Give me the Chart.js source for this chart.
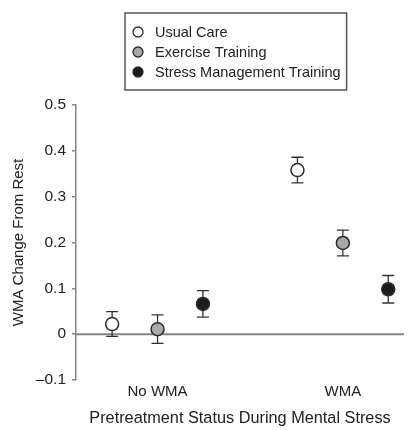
<!DOCTYPE html>
<html>
<head>
<meta charset="utf-8">
<script src="https://cdn.jsdelivr.net/npm/chart.js@4.4.1/dist/chart.umd.min.js"></script>
<style>
  body { margin: 0; background: #fff; }
  #wrap { width: 412px; height: 430px; }
</style>
</head>
<body>
<div id="wrap"><canvas id="wmaChart" width="412" height="430"></canvas></div>
<script>
// WMA change from rest by pretreatment status

const categories = ['No WMA', 'WMA'];
const groups = ['Usual Care', 'Exercise Training', 'Stress Management Training'];

const usualCare = [0.022, 0.358];
const usualCareErr = [0.027, 0.028];
const exercise = [0.011, 0.199];
const exerciseErr = [0.031, 0.028];
const stressMgmt = [0.066, 0.098];
const stressMgmtErr = [0.029, 0.030];

const yTicks = [-0.1, 0, 0.1, 0.2, 0.3, 0.4, 0.5];

const FONT = 'Liberation Sans, Arial, Helvetica, sans-serif';
const TEXT = '#222';
const AXIS = '#858585';

// dodge each group within a category
const dodge = [-0.245, 0, 0.245];

function makeSet(label, values, errs, fill, i) {
    return {
        label: label,
        data: values.map((v, c) => ({ x: c + dodge[i], y: v, err: errs[c] })),
        backgroundColor: fill,
        borderColor: '#2a2a2a',
        borderWidth: 1.5,
        pointRadius: 6.5,
        pointHoverRadius: 6.5,
        showLine: false
    };
}

// zero line + error bars, drawn under the points
const underlay = {
    id: 'underlay',
    beforeDatasetsDraw(chart) {
        const { ctx, chartArea, scales } = chart;
        const y0 = scales.y.getPixelForValue(0);
        ctx.save();
        ctx.strokeStyle = AXIS;
        ctx.lineWidth = 2;
        ctx.beginPath();
        ctx.moveTo(chartArea.left, y0);
        ctx.lineTo(chartArea.right, y0);
        ctx.stroke();

        ctx.strokeStyle = '#333';
        ctx.lineWidth = 1.3;
        chart.data.datasets.forEach((ds, i) => {
            const meta = chart.getDatasetMeta(i);
            meta.data.forEach((pt, j) => {
                const d = ds.data[j];
                const top = scales.y.getPixelForValue(d.y + d.err);
                const bot = scales.y.getPixelForValue(d.y - d.err);
                ctx.beginPath();
                ctx.moveTo(pt.x, top);
                ctx.lineTo(pt.x, bot);
                ctx.moveTo(pt.x - 6, top);
                ctx.lineTo(pt.x + 6, top);
                ctx.moveTo(pt.x - 6, bot);
                ctx.lineTo(pt.x + 6, bot);
                ctx.stroke();
            });
        });
        ctx.restore();
    }
};

// boxed legend stacked vertically
const boxLegend = {
    id: 'boxLegend',
    afterDraw(chart) {
        const ctx = chart.ctx;
        const x0 = 125, y0 = 13, rowH = 20;
        ctx.save();
        ctx.font = '14.5px ' + FONT;
        let w = 0;
        chart.data.datasets.forEach(ds => { w = Math.max(w, ctx.measureText(ds.label).width); });
        ctx.strokeStyle = '#555';
        ctx.lineWidth = 1.5;
        ctx.strokeRect(x0, y0, 30 + w + 6, 77);
        chart.data.datasets.forEach((ds, i) => {
            const cy = y0 + 19 + i * rowH;
            ctx.beginPath();
            ctx.arc(x0 + 13, cy, 5, 0, Math.PI * 2);
            ctx.fillStyle = ds.backgroundColor;
            ctx.fill();
            ctx.strokeStyle = '#2a2a2a';
            ctx.lineWidth = 1.3;
            ctx.stroke();
            ctx.fillStyle = TEXT;
            ctx.textBaseline = 'middle';
            ctx.fillText(ds.label, x0 + 30, cy + 1);
        });
        ctx.restore();
    }
};

const ctx = document.getElementById('wmaChart').getContext('2d');

const wmaChart = new Chart(ctx, {
    type: 'scatter',
    data: {
        datasets: [
            makeSet(groups[0], usualCare, usualCareErr, '#ffffff', 0),
            makeSet(groups[1], exercise, exerciseErr, '#a8a8a8', 1),
            makeSet(groups[2], stressMgmt, stressMgmtErr, '#1c1c1c', 2)
        ]
    },
    options: {
        responsive: false,
        animation: false,
        layout: { padding: { top: 105, right: 0, bottom: 0, left: 0 } },
        plugins: {
            legend: { display: false },
            tooltip: { enabled: false }
        },
        scales: {
            x: {
                type: 'linear',
                min: -0.44,
                max: 1.33,
                afterBuildTicks: s => { s.ticks = categories.map((c, i) => ({ value: i })); },
                afterFit: s => { s.height = 50; },
                grid: { display: false },
                border: { display: false },
                ticks: {
                    padding: -5,
                    color: TEXT,
                    font: { family: FONT, size: 15 },
                    callback: v => categories[v]
                },
                title: {
                    display: true,
                    text: 'Pretreatment Status During Mental Stress',
                    color: TEXT,
                    font: { family: FONT, size: 16.3 },
                    padding: { top: 0, bottom: 2 }
                }
            },
            y: {
                min: -0.1,
                max: 0.5,
                afterBuildTicks: s => { s.ticks = yTicks.map(v => ({ value: v })); },
                afterFit: s => { s.width = 76; },
                grid: { drawOnChartArea: false, tickLength: 4, color: AXIS, lineWidth: 1.5 },
                border: { color: AXIS, width: 1.5 },
                ticks: {
                    padding: 6,
                    color: TEXT,
                    font: { family: FONT, size: 15.5 },
                    callback: v => v === 0 ? '0' : (v < 0 ? '\u2013' + Math.abs(v).toFixed(1) : v.toFixed(1))
                },
                title: {
                    display: true,
                    text: 'WMA Change From Rest',
                    color: TEXT,
                    font: { family: FONT, size: 15 },
                    padding: { top: 10, bottom: 0 }
                }
            }
        }
    },
    plugins: [underlay, boxLegend]
});
</script>
</body>
</html>
